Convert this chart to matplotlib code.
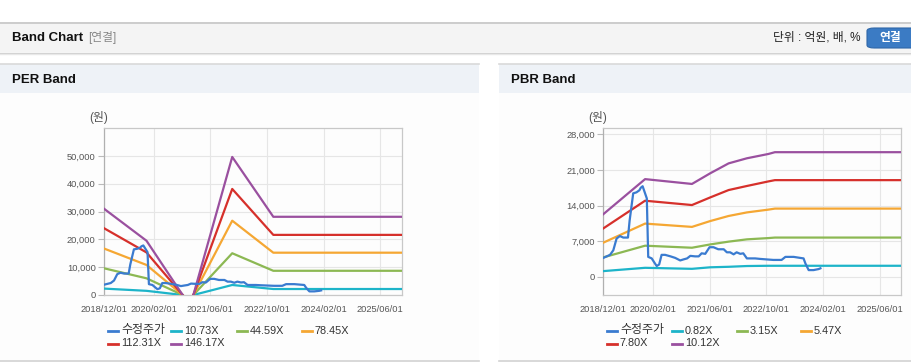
import numpy as np
import pandas as pd
import matplotlib
matplotlib.use("Agg")
import matplotlib.pyplot as plt
from matplotlib.patches import Rectangle, FancyBboxPatch
from matplotlib.lines import Line2D

plt.rcParams['font.family'] = ['Liberation Sans', 'Noto Sans CJK KR', 'DejaVu Sans']
nan = np.nan

# ---------------- data ----------------
price_dates = ["2018-12-01", "2019-01-28", "2019-02-25", "2019-03-25", "2019-04-22", "2019-05-22",
               "2019-07-01", "2019-07-15", "2019-08-15", "2019-09-12", "2019-10-07", "2019-10-19",
               "2019-11-04", "2019-11-25", "2019-12-10", "2019-12-22", "2020-01-21", "2020-02-18",
               "2020-03-04", "2020-03-25", "2020-04-15", "2020-05-15", "2020-07-01", "2020-08-10",
               "2020-09-22", "2020-10-20", "2020-11-20", "2020-12-18", "2021-01-28", "2021-02-28",
               "2021-03-25", "2021-04-25", "2021-06-01", "2021-07-05", "2021-08-15", "2021-10-01",
               "2021-10-28", "2021-11-25", "2021-12-25", "2022-01-20", "2022-02-20", "2022-03-18",
               "2022-04-18", "2022-05-15", "2022-06-28", "2022-08-10", "2022-10-05", "2022-12-01",
               "2023-02-10", "2023-03-15", "2023-05-25", "2023-07-20", "2023-08-18", "2023-09-03",
               "2023-10-01", "2023-11-12", "2023-12-25", "2024-01-10"]
price_values = [3700, 4300, 5200, 7500, 8000, 7700,
                7700, 11000, 16400, 16600, 17000, 17500,
                17800, 16400, 15400, 3900, 3600, 2600,
                2100, 2400, 4300, 4300, 4000, 3700,
                3200, 3400, 3600, 4100, 4000, 4000,
                4600, 4500, 5800, 5800, 5400, 5400,
                4800, 4800, 4400, 4800, 4500, 4600,
                3600, 3600, 3600, 3500, 3400, 3300,
                3300, 3900, 3900, 3700, 3600, 2600,
                1300, 1300, 1500, 1650]

per_dates = ["2018-12-01", "2019-12-01", "2020-10-07", "2020-11-20", "2021-01-07",
             "2021-12-07", "2022-11-25", "2025-12-05"]
per_labels = ["10.73X", "44.59X", "78.45X", "112.31X", "146.17X"]
per_10_73 = [2300, 1500, 0, nan, 0, 3600, 2150, 2150]
per_44_59 = [9600, 6000, 0, nan, 0, 15000, 8700, 8700]
per_78_45 = [16700, 10800, 0, nan, 0, 26700, 15200, 15200]
per_112_31 = [24000, 15300, 0, nan, 0, 38100, 21600, 21600]
per_146_17 = [31000, 19500, 0, nan, 0, 49600, 28100, 28100]

pbr_dates = ["2018-12-01", "2019-11-25", "2021-01-01", "2021-06-07", "2021-11-12",
             "2022-04-18", "2022-10-20", "2022-12-15", "2025-12-05"]
pbr_labels = ["0.82X", "3.15X", "5.47X", "7.80X", "10.12X"]
pbr_0_82 = [1100, 1750, 1550, 1850, 1950, 2100, 2150, 2150, 2150]
pbr_3_15 = [3800, 6100, 5700, 6350, 6900, 7350, 7600, 7700, 7700]
pbr_5_47 = [6700, 10450, 9800, 10950, 11950, 12650, 13200, 13400, 13400]
pbr_7_80 = [9500, 14950, 14100, 15600, 17050, 17850, 18750, 19000, 19000]
pbr_10_12 = [12300, 19200, 18250, 20350, 22300, 23300, 24150, 24500, 24500]

price_label = "수정주가"
x_ticks = ["2018-12-01", "2020-02-01", "2021-06-01", "2022-10-01", "2024-02-01", "2025-06-01"]
x_tick_labels = ["2018/12/01", "2020/02/01", "2021/06/01", "2022/10/01", "2024/02/01", "2025/06/01"]
per_yticks = [0, 10000, 20000, 30000, 40000, 50000]
pbr_yticks = [0, 7000, 14000, 21000, 28000]

colors = ["#3a7bd0", "#1db4c9", "#8cb853", "#f5a733", "#d6302b", "#9a509f"]

# ---------------- figure ----------------
W, H = 912, 364
fig = plt.figure(figsize=(W / 100, H / 100), dpi=100)
fig.patch.set_facecolor("white")


def fx(x):
    return x / W


def fy(y):
    return 1 - y / H


def rect(x0, y0, x1, y1, color, z=0):
    fig.add_artist(Rectangle((fx(x0), fy(y1)), fx(x1) - fx(x0), fy(y0) - fy(y1),
                             transform=fig.transFigure, facecolor=color, edgecolor="none", zorder=z))


def hline(x0, x1, y, color, lw=1.0, z=1):
    fig.add_artist(Line2D([fx(x0), fx(x1)], [fy(y), fy(y)], transform=fig.transFigure,
                          color=color, lw=lw, zorder=z))


# top bar
rect(0, 22, W, 52, "#f4f4f4")
hline(0, W, 22.5, "#c6c6c6", 1.2)
hline(0, W, 52.5, "#cfcfcf", 1.0)
hline(0, W, 53.5, "#e8e8e8", 1.0)
fig.text(fx(12), fy(38), "Band Chart", fontsize=9.5, fontweight="bold", color="#111",
         va="center", ha="left")
fig.text(fx(88), fy(38), "[연결]", fontsize=8.5, color="#888", va="center", ha="left")
fig.text(fx(861), fy(38), "단위 : 억원, 배, %", fontsize=8.5, color="#222", va="center", ha="right")
fig.add_artist(FancyBboxPatch((fx(867), fy(48)), fx(60), fy(0) - fy(20),
                              boxstyle="round,pad=0,rounding_size=0.008",
                              transform=fig.transFigure, facecolor="#3b7bc4",
                              edgecolor="#2f67a8", lw=0.8, zorder=2))
fig.text(fx(890), fy(38), "연결", fontsize=8.5, fontweight="bold", color="white",
         va="center", ha="center", zorder=3)

# panel headers
for (x0, x1, title) in [(0, 479, "PER Band"), (499, W, "PBR Band")]:
    rect(x0, 64, x1, 92.5, "#eef2f7")
    hline(x0, x1, 64.2, "#d9d9d9", 1.2)
    rect(x0, 92.5, x1, 360, "#fdfdfd")
    hline(x0, x1, 361, "#d2d2d2", 1.2)
    fig.text(fx(x0 + 12), fy(80), title, fontsize=9.5, fontweight="bold", color="#111",
             va="center", ha="left")


def make_axes(left, right, top, bottom, band_dates, bands, band_labels, yticks, ylim,
              ylab_x, legend_x):
    ax = fig.add_axes([fx(left), fy(bottom), fx(right) - fx(left), fy(top) - fy(bottom)])
    ax.set_facecolor("#fdfdfd")
    pd_dates = pd.to_datetime(price_dates)
    bd = pd.to_datetime(band_dates)
    ax.plot(pd_dates, price_values, color=colors[0], lw=1.6, zorder=4)
    for i, b in enumerate(bands):
        ax.plot(bd, np.array(b, dtype=float), color=colors[i + 1], lw=1.6, zorder=3)
    ax.set_xlim(pd.Timestamp("2018-12-01"), pd.Timestamp("2025-12-05"))
    ax.set_ylim(*ylim)
    ax.set_xticks(pd.to_datetime(x_ticks))
    ax.set_xticklabels(x_tick_labels)
    ax.set_yticks(yticks)
    ax.set_yticklabels([f"{v:,}" for v in yticks])
    ax.tick_params(axis="x", length=0, pad=7, labelsize=6.7, labelcolor="#555")
    ax.tick_params(axis="y", length=4, width=0.8, color="#bbb", pad=2, labelsize=6.7,
                   labelcolor="#555")
    ax.grid(True, color="#e6e6e6", lw=0.8, zorder=0)
    for s in ["top", "right", "bottom"]:
        ax.spines[s].set_color("#c8c8c8")
        ax.spines[s].set_linewidth(0.9)
    ax.spines["left"].set_color("#b0b0b0")
    ax.spines["left"].set_linewidth(0.9)
    fig.text(fx(ylab_x), fy(117), "(원)", fontsize=8.5, color="#555", va="center", ha="left")

    # legend
    labels = [price_label] + band_labels
    slots = [(0, 330.5), (1, 330.5), (2, 330.5), (3, 330.5), (0, 343.5), (1, 343.5)]
    for i, lab in enumerate(labels):
        col, yy = slots[i]
        lx = legend_x[col]
        fig.add_artist(Line2D([fx(lx), fx(lx + 10)], [fy(yy), fy(yy)], transform=fig.transFigure,
                              color=colors[i], lw=2.0))
        fs = 8.6 if i == 0 else 7.8
        fig.text(fx(lx + 13), fy(yy), lab, fontsize=fs, color="#333", va="center", ha="left")
    return ax


make_axes(104, 402, 128, 295, per_dates,
          [per_10_73, per_44_59, per_78_45, per_112_31, per_146_17], per_labels,
          per_yticks, (0, 60000), 89, [108, 171, 237, 302])
make_axes(603.3, 901.3, 128.3, 295, pbr_dates,
          [pbr_0_82, pbr_3_15, pbr_5_47, pbr_7_80, pbr_10_12], pbr_labels,
          pbr_yticks, (-3600, 29200), 588, [607, 672, 737, 801])

fig.savefig("out.png", dpi=100, facecolor="white")
